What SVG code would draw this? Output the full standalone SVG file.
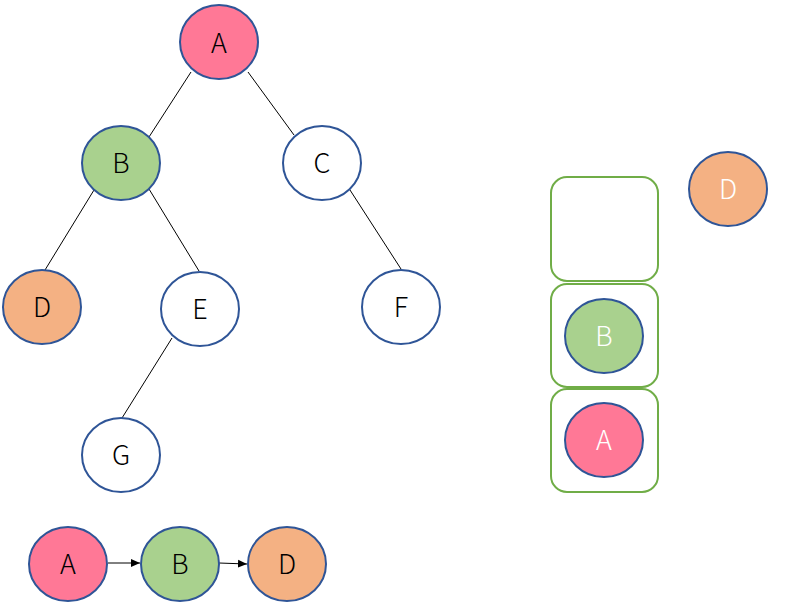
<svg xmlns="http://www.w3.org/2000/svg" width="807" height="612" viewBox="0 0 807 612">
<defs>
<style>
.n{stroke:#2F5597;stroke-width:2}
.p{fill:#FF7896}.g{fill:#A9D18E}.o{fill:#F4B183}.w{fill:#FFFFFF}
.t{font-family:"Noto Sans CJK SC","Noto Sans","DejaVu Sans",sans-serif;font-weight:300;font-size:27px;text-anchor:middle;fill:#000}
.tw{fill:#FFFFFF}
.e{stroke:#000;stroke-width:1;fill:none}
.box{fill:#FFFFFF;stroke:#70AD47;stroke-width:2}
</style>
<marker id="ar" markerWidth="10" markerHeight="10" refX="9" refY="5" orient="auto" markerUnits="userSpaceOnUse">
<path d="M0,1 L9,5 L0,9 Z" fill="#000"/>
</marker>
</defs>
<g id="connectors">
<line class="e" x1="191" y1="72" x2="149" y2="137"/>
<line class="e" x1="248" y1="72" x2="294" y2="135"/>
<line class="e" x1="94" y1="190" x2="45" y2="270"/>
<line class="e" x1="149" y1="189" x2="199" y2="271"/>
<line class="e" x1="350" y1="190" x2="401" y2="269"/>
<line class="e" x1="172" y1="338" x2="122" y2="418"/>
<line class="e" x1="108" y1="563" x2="140" y2="563" marker-end="url(#ar)"/>
<line class="e" x1="219" y1="563" x2="247" y2="564" marker-end="url(#ar)"/>
</g>
<g id="stack">
<rect class="box" x="551" y="177" width="107" height="104" rx="16"/>
<rect class="box" x="551" y="284" width="107" height="103" rx="16"/>
<rect class="box" x="551" y="389" width="107" height="103" rx="16"/>
</g>
<g id="nA"><ellipse class="n p" cx="219" cy="42" rx="39" ry="37"/><text class="t" x="219" y="53">A</text></g>
<g id="nB"><ellipse class="n g" cx="121" cy="163" rx="39" ry="37"/><text class="t" x="121" y="173">B</text></g>
<g id="nC"><ellipse class="n w" cx="322" cy="163" rx="39" ry="37"/><text class="t" x="322" y="173">C</text></g>
<g id="nD"><ellipse class="n o" cx="42" cy="307" rx="39" ry="37"/><text class="t" x="42" y="317">D</text></g>
<g id="nE"><ellipse class="n w" cx="200" cy="309" rx="39" ry="37"/><text class="t" x="200" y="319">E</text></g>
<g id="nF"><ellipse class="n w" cx="401" cy="307" rx="39" ry="37"/><text class="t" x="401" y="317">F</text></g>
<g id="nG"><ellipse class="n w" cx="121" cy="455" rx="39" ry="37"/><text class="t" x="121" y="465">G</text></g>
<g id="sB"><ellipse class="n g" cx="604" cy="336" rx="39" ry="37"/><text class="t tw" x="604" y="346">B</text></g>
<g id="sA"><ellipse class="n p" cx="604" cy="440" rx="39" ry="37"/><text class="t tw" x="604" y="450">A</text></g>
<g id="sD"><ellipse class="n o" cx="728" cy="189" rx="39" ry="37"/><text class="t tw" x="728" y="199">D</text></g>
<g id="lA"><ellipse class="n p" cx="68" cy="564" rx="39" ry="37"/><text class="t" x="68" y="574">A</text></g>
<g id="lB"><ellipse class="n g" cx="180" cy="564" rx="39" ry="37"/><text class="t" x="180" y="574">B</text></g>
<g id="lD"><ellipse class="n o" cx="287" cy="564" rx="39" ry="37"/><text class="t" x="287" y="574">D</text></g>
</svg>
